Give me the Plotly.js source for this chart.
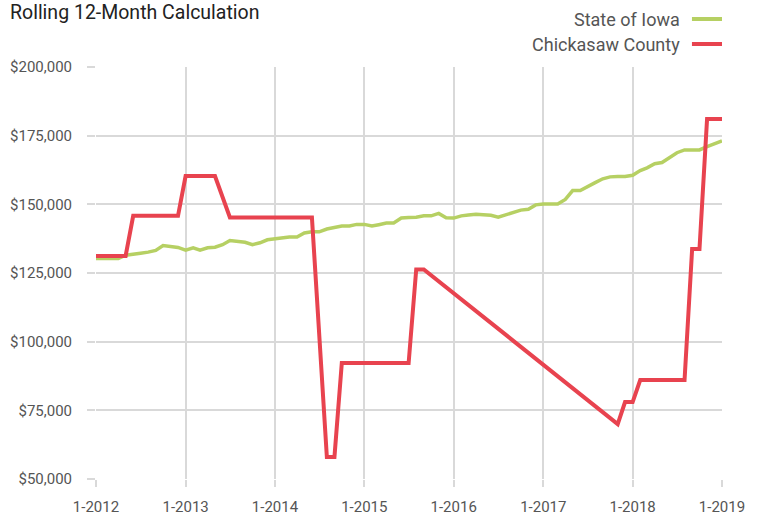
<!DOCTYPE html>
<html>
<head>
<meta charset="utf-8">
<script src="https://cdn.plot.ly/plotly-3.0.1.min.js"></script>
<style>html,body{margin:0;padding:0;background:#fff;}#chart{width:759px;height:515px;}</style>
</head>
<body>
<div id="chart"></div>
<script>
// State of Iowa, monthly rolling 12-month values, starting Jan 2012
const iowaStartYear = 2012;
const iowaValues = [
  130300,130300,130300,130300,131500,132000,132200,132600,133200,135000,134500,134300,
  133300,134200,133300,134200,134400,135300,136800,136400,136200,135300,136000,137100,
  137500,138000,138100,138100,139600,140000,140000,141000,141500,142100,142100,142700,
  142700,142100,142600,143200,143200,145000,145200,145300,145800,145800,146700,145100,
  145000,145800,146100,146400,146200,146000,145300,146200,147100,147900,148200,149800,
  150100,150100,150100,151800,155000,155000,156600,157900,159300,160000,160100,160100,
  160600,162300,163300,164800,165200,167100,168800,169800,169800,169800,171000,172000,
  173100
];

// Chickasaw County
const countyDates = [
  '2012-01-01','2012-05-01','2012-06-01','2012-12-01','2013-01-01','2013-05-01',
  '2013-07-01','2014-06-01','2014-08-01','2014-09-01','2014-10-01','2015-07-01',
  '2015-08-01','2015-09-01','2017-11-01','2017-12-01','2018-01-01','2018-02-01',
  '2018-08-01','2018-09-01','2018-10-01','2018-11-01','2019-01-01'
];
const countyValues = [
  131200,131200,145800,145800,160300,160300,
  145200,145200,58000,58000,92200,92200,
  126300,126300,70000,78000,78000,86000,
  86000,133700,133700,181100,181100
];

const seriesNames = ['State of Iowa', 'Chickasaw County'];
const xTickVals = ['2012-01-01','2013-01-01','2014-01-01','2015-01-01','2016-01-01','2017-01-01','2018-01-01','2019-01-01'];
const xTickText = ['1-2012','1-2013','1-2014','1-2015','1-2016','1-2017','1-2018','1-2019'];
const yTickVals = [50000,75000,100000,125000,150000,175000,200000];

const iowaDates = iowaValues.map((v, i) => {
  const y = iowaStartYear + Math.floor(i / 12);
  const m = (i % 12) + 1;
  return y + '-' + String(m).padStart(2, '0') + '-01';
});

const GREEN = '#b6d063';
const RED = '#e8434f';
const GRID = '#d9d9d9';
const TXT = '#555555';
const FONT = 'Roboto, "Liberation Sans", sans-serif';

const traces = [
  {x: iowaDates, y: iowaValues, name: seriesNames[0], type: 'scatter', mode: 'lines',
   line: {color: GREEN, width: 3.5}},
  {x: countyDates, y: countyValues, name: seriesNames[1], type: 'scatter', mode: 'lines',
   line: {color: RED, width: 4}}
];

const layout = {
  width: 759, height: 515,
  margin: {l: 96, r: 37, t: 67, b: 36},
  paper_bgcolor: '#fff', plot_bgcolor: '#fff',
  showlegend: false,
  font: {family: FONT, color: TXT},
  title: {text: 'Rolling 12-Month Calculation', x: 10/759, xanchor: 'left', xref: 'container',
          y: 1 - 12/515, yanchor: 'middle', yref: 'container',
          font: {family: FONT, size: 19.5, color: '#222'}},
  xaxis: {type: 'date', range: ['2012-01-01','2019-01-01'], tickvals: xTickVals, ticktext: xTickText,
          showgrid: true, gridcolor: GRID, gridwidth: 2, zeroline: false, showline: false,
          ticks: 'outside', ticklen: 7, tickwidth: 2, tickcolor: GRID, ticklabelstandoff: 7,
          tickfont: {family: FONT, size: 15, color: TXT}},
  yaxis: {range: [50000, 200000], tickvals: yTickVals, tickformat: '$,.0f',
          showgrid: true, gridcolor: GRID, gridwidth: 2, zeroline: false, showline: false,
          ticks: 'outside', ticklen: 8, tickwidth: 2, tickcolor: GRID, ticklabelstandoff: 12,
          tickfont: {family: FONT, size: 15, color: TXT}},
  annotations: [
    {text: seriesNames[0], xref: 'paper', yref: 'paper', x: 0.936, y: 1.1165, xanchor: 'right', yanchor: 'middle',
     showarrow: false, font: {family: FONT, size: 18, color: TXT}},
    {text: seriesNames[1], xref: 'paper', yref: 'paper', x: 0.936, y: 1.0558, xanchor: 'right', yanchor: 'middle',
     showarrow: false, font: {family: FONT, size: 18, color: TXT}}
  ],
  shapes: [
    {type: 'line', xref: 'paper', yref: 'paper', x0: 0.952, x1: 1.0, y0: 1.1165, y1: 1.1165, line: {color: GREEN, width: 4}},
    {type: 'line', xref: 'paper', yref: 'paper', x0: 0.952, x1: 1.0, y0: 1.0558, y1: 1.0558, line: {color: RED, width: 4}}
  ]
};

Plotly.newPlot('chart', traces, layout, {displayModeBar: false, staticPlot: true});
</script>
</body>
</html>
